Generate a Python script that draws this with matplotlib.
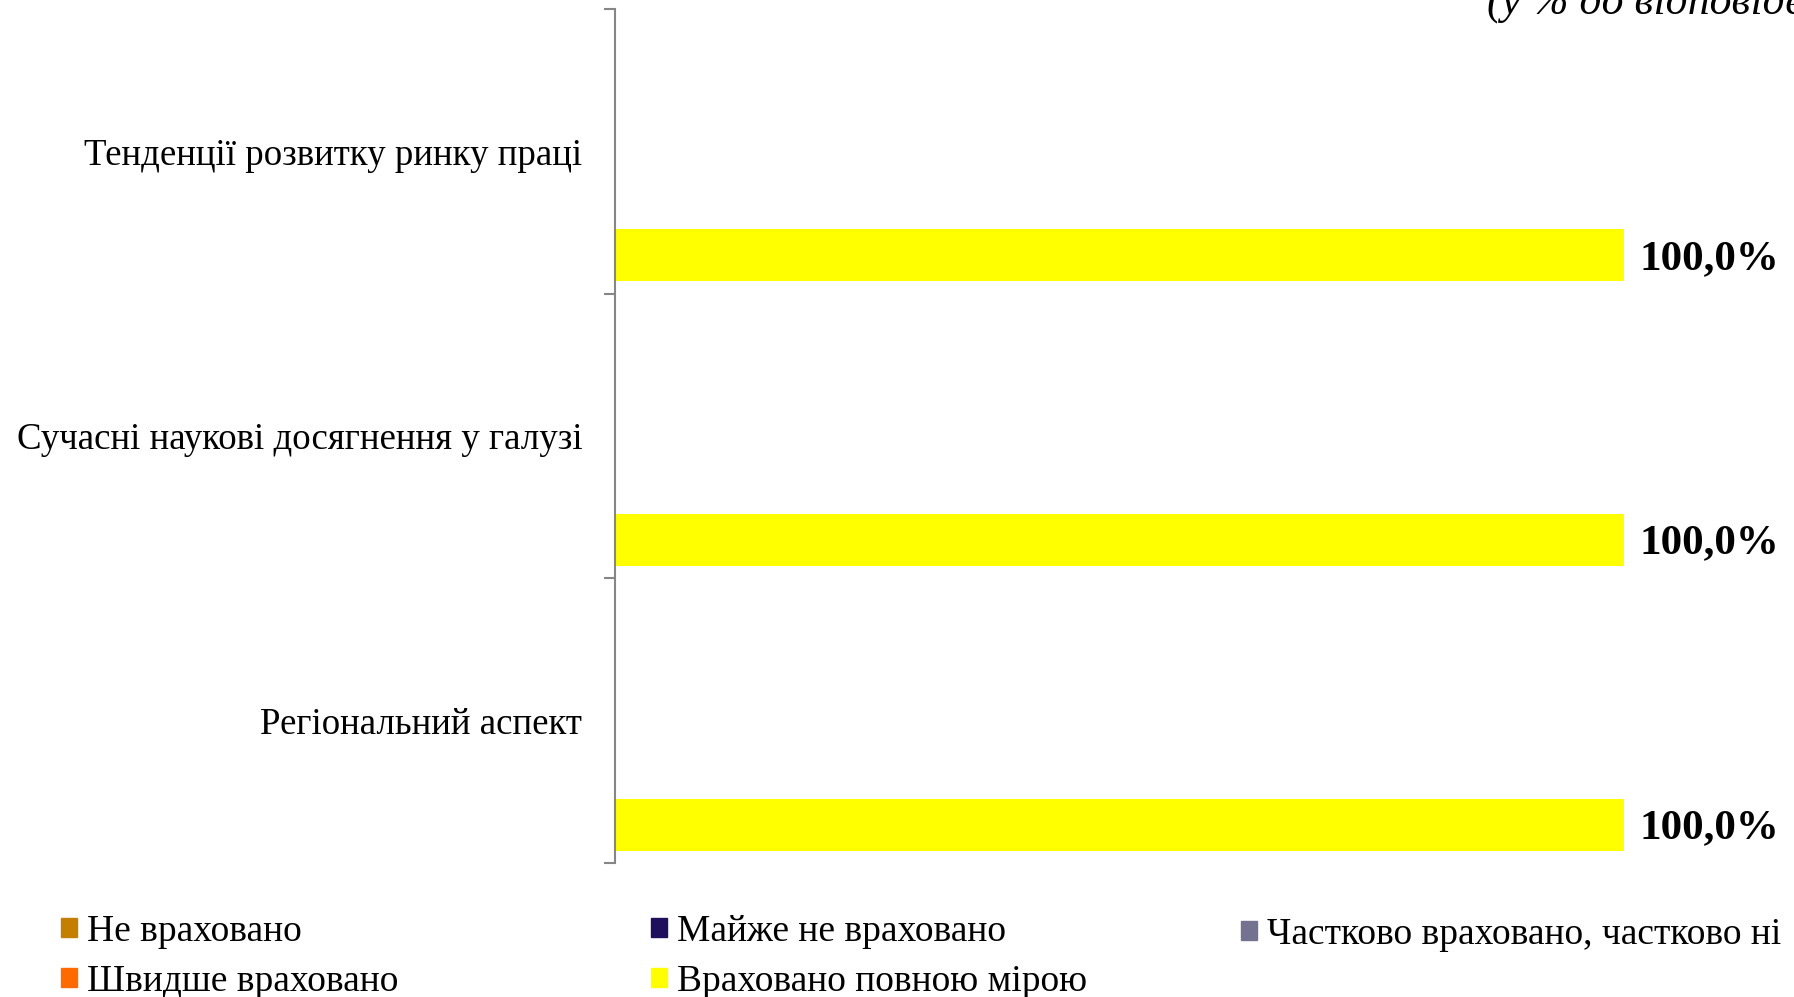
import numpy as np
import matplotlib
matplotlib.use("Agg")
import matplotlib.pyplot as plt
from matplotlib.patches import Patch

plt.rcParams['font.family'] = ['Liberation Serif', 'DejaVu Serif']

# data
categories = ["Тенденції розвитку ринку праці",
              "Сучасні наукові досягнення у галузі",
              "Регіональний аспект"]
series_names = ["Не враховано", "Майже не враховано",
                "Частково враховано, частково ні",
                "Швидше враховано", "Враховано повною мірою"]
ne_vrakh = [0, 0, 0]
mayzhe_ne = [0, 0, 0]
chastkovo = [0, 0, 0]
shvydshe = [0, 0, 0]
povnoyu = [100.0, 100.0, 100.0]
colors = ["#C47F00", "#1F0F5C", "#737391", "#FF6A00", "#FFFF00"]

values = [ne_vrakh, mayzhe_ne, chastkovo, shvydshe, povnoyu]

fig = plt.figure(figsize=(17.94, 9.97), dpi=100)
ax = fig.add_axes([615/1794, 1-863/997, (1624-615)/1794, (863-9)/997])

y = np.arange(len(categories))
h = 0.1827
conts = []
for i, vals in enumerate(values):
    off = (i - 2) * h
    c = ax.barh(y + off, vals, height=h, color=colors[i], label=series_names[i])
    conts.append(c)

lab = [f"{v:.1f}%".replace('.', ',') for v in povnoyu]
txts = ax.bar_label(conts[4], labels=lab, padding=11, fontsize=31,
                    fontweight='bold', color='black')
for t in txts:
    t.xyann = (11, -2.5)  # a little lower, like the original

ax.set_xlim(0, 100)
ax.set_ylim(2.5, -0.5)
for s in ['top', 'right', 'bottom']:
    ax.spines[s].set_visible(False)
ax.spines['left'].set_color('#868686')
ax.spines['left'].set_linewidth(1.5)
ax.set_xticks([])
ax.set_yticks([-0.5, 0.5, 1.5, 2.5])
ax.set_yticklabels([])
ax.tick_params(axis='y', which='major', length=8, width=1.5, color='#868686')
ax.set_yticks(y, minor=True)
ax.set_yticklabels(categories, minor=True, fontsize=26.6)
ax.tick_params(axis='y', which='minor', length=0, pad=23.6)

fig.text(1487/1794, 1-15/997, "(у % до відповідей)", fontsize=31.5,
         style='italic', ha='left', va='baseline')

# legend, three columns placed like the original
def leg(idx, x, yc):
    hs = [Patch(color=colors[i]) for i in idx]
    l = fig.legend(hs, [series_names[i] for i in idx], loc='center left',
                   bbox_to_anchor=(x/1794, 1-yc/997), frameon=False,
                   fontsize=27, handlelength=0.42, handleheight=0.42,
                   handletextpad=0.28, labelspacing=0.41, borderpad=0,
                   borderaxespad=0)
    return l

leg([0, 3], 61, 956.5)
leg([1, 4], 651, 956.5)
leg([2], 1241, 934.5)

fig.savefig("out.png", dpi=100)
